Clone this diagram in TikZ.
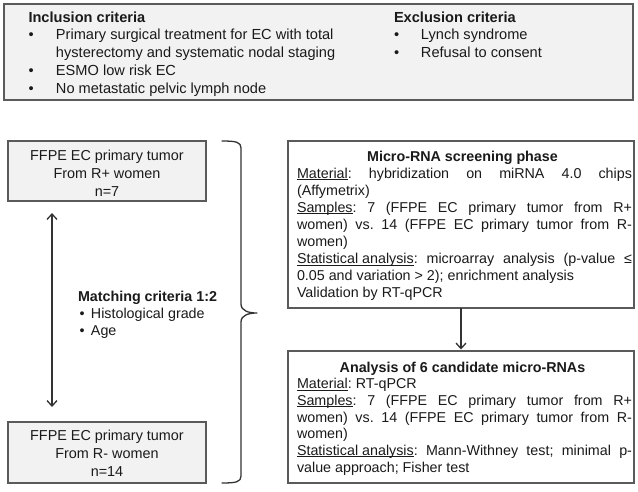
\documentclass[tikz,border=0pt]{standalone}
\usepackage{fontspec}
\setmainfont{Liberation Sans}
\usetikzlibrary{arrows.meta,shadows}
\definecolor{boxgray}{HTML}{F2F2F2}
\definecolor{edge}{HTML}{5A5A5A}
\definecolor{ink}{HTML}{1A1A1A}
\definecolor{arr}{HTML}{333333}
\newcommand\tstr{\rule{0pt}{12pt}}
\newcommand\undl[1]{\setbox0\hbox{#1}\rlap{\rule[-1.7pt]{\wd0}{0.8pt}}\box0}
\newcommand\jl[1]{\makebox[335pt][s]{#1}}
\newcommand\bul[1]{\makebox[#1][l]{•}}
\frenchspacing
\begin{document}
\begin{tikzpicture}[x=1pt,y=-1pt,
  frame/.style={draw=edge, line width=1.3pt, inner sep=0pt, outer sep=0pt, anchor=north west,
    drop shadow={shadow xshift=1.2pt, shadow yshift=-1.2pt, fill=black!50, opacity=0.5}},
  graybox/.style={frame, fill=boxgray},
  whitebox/.style={frame, fill=white},
  txt/.style={inner sep=0pt, outer sep=0pt, text=ink, align=left},
  f1/.style={font=\fontsize{14.6}{17.8}\selectfont},
  f2/.style={font=\fontsize{14.4}{18.3}\selectfont},
  f3/.style={font=\fontsize{14.3}{17}\selectfont},
  f4/.style={font=\fontsize{14.3}{17.1}\selectfont},
  f5/.style={font=\fontsize{14.3}{16.7}\selectfont},
  conn/.style={draw=arr, line width=1.3pt},
  barb/.tip={Straight Barb[length=5.5pt,width=10pt]}
]
\useasboundingbox (0,0) rectangle (638,491);
\fill[white] (0,0) rectangle (638,491);

% top criteria box
\node (top) [graybox, minimum width=629, minimum height=96] at (4,4) {};
\node (incl) [txt, f1, anchor=north west] at (28.5,10) {\tstr\textbf{Inclusion criteria}\\
  \bul{27.5pt}Primary surgical treatment for EC with total\\
  \hspace*{27.5pt}hysterectomy and systematic nodal staging\\
  \bul{27.5pt}ESMO low risk EC\\
  \bul{27.5pt}No metastatic pelvic lymph node};
\node (excl) [txt, f1, anchor=north west] at (394,10) {\tstr\textbf{Exclusion criteria}\\
  \bul{27pt}Lynch syndrome\\
  \bul{27pt}Refusal to consent};

% left boxes
\node (lt) [graybox, minimum width=198, minimum height=60] at (8,141) {};
\node (ltt) [txt, f2, align=center, anchor=north] at (107,148) {\tstr FFPE EC primary tumor\\From R+ women\\n=7};
\node (lb) [graybox, minimum width=198, minimum height=61] at (8,422) {};
\node (lbt) [txt, f2, align=center, anchor=north] at (107,428) {\tstr FFPE EC primary tumor\\From R- women\\n=14};

\node (match) [txt, f3, anchor=north west] at (78,289) {\tstr\textbf{Matching criteria 1:2}\\
  \hspace*{1.5pt}\bul{11.5pt}Histological grade\\
  \hspace*{1.5pt}\bul{11.5pt}Age};

\coordinate (ax) at (52,0);
\draw[conn, barb-barb, shorten <=12pt, shorten >=15pt] (lt.south -| ax) -- (lb.north -| ax);

% brace
\draw[conn, line cap=round, line join=round] (222,141) .. controls (236,141) and (241,142) .. (241,148)
  -- (241,304) .. controls (241,311) and (249,313) .. (257,313)
  .. controls (249,313) and (241,315) .. (241,322)
  -- (241,476) .. controls (241,482) and (236,483) .. (222,483);

% right boxes
\node (rt) [whitebox, minimum width=346, minimum height=167] at (288,141) {};
\node (rtt) [txt, f4, anchor=north west] at (297,149) {\tstr\makebox[331pt][c]{\textbf{Micro-RNA screening phase}}\\
  \jl{\undl{Material}: hybridization on miRNA 4.0 chips}\\
  (Affymetrix)\\
  \jl{\undl{Samples}: 7 (FFPE EC primary tumor from R+}\\
  \jl{women) vs. 14 (FFPE EC primary tumor from R-}\\
  women)\\
  \jl{\undl{Statistical analysis}: microarray analysis (p-value ≤}\\
  0.05 and variation > 2); enrichment analysis\\
  Validation by RT-qPCR};

\node (rb) [whitebox, minimum width=346, minimum height=132] at (288,351) {};
\node (rbt) [txt, f5, anchor=north west] at (297,360) {\tstr\makebox[331pt][c]{\textbf{Analysis of 6 candidate micro-RNAs}}\\
  \undl{Material}: RT-qPCR\\
  \jl{\undl{Samples}: 7 (FFPE EC primary tumor from R+}\\
  \jl{women) vs. 14 (FFPE EC primary tumor from R-}\\
  women)\\
  \jl{\undl{Statistical analysis}: Mann-Withney test; minimal p-}\\
  value approach; Fisher test};

\draw[conn, -barb, shorten >=1.5pt] (rt.south) -- (rb.north);
\end{tikzpicture}
\end{document}
